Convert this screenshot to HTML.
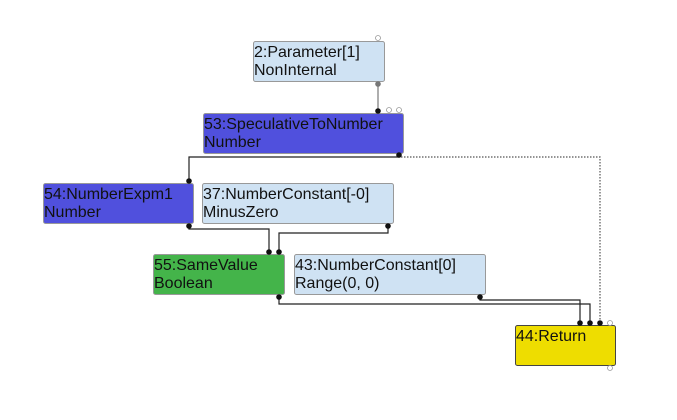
<!DOCTYPE html>
<html><head><meta charset="utf-8"><style>
html,body{margin:0;padding:0;background:#fff;width:677px;height:420px;overflow:hidden}
text{font-family:"Liberation Sans",sans-serif;font-size:16px;fill:#111}
</style></head><body>
<svg width="677" height="420" viewBox="0 0 677 420" xmlns="http://www.w3.org/2000/svg">
<g fill="none" stroke="#222" stroke-width="1.2">
<path d="M378 84 V111" stroke="#777"/>
<path d="M399 155 V157 H189 V181"/>
<path d="M401 157 H600 V323" stroke-dasharray="1.5,1.5" stroke="#555"/>
<path d="M189 226 V229 H269 V252"/>
<path d="M388 226 V233 H279 V252"/>
<path d="M279 296 V304 H590 V323"/>
<path d="M480 296 V300 H580 V323"/>
</g>
<g stroke="#999" stroke-width="1">
<rect x="253.5" y="41.5" width="131" height="40" rx="2" fill="#cfe2f3"/>
<rect x="203.5" y="113.5" width="200" height="40" rx="2" fill="#5050dd"/>
<rect x="43.5" y="183.5" width="150" height="40" rx="2" fill="#5050dd"/>
<rect x="202.5" y="183.5" width="191" height="40" rx="2" fill="#cfe2f3"/>
<rect x="153.5" y="254.5" width="131" height="40" rx="2" fill="#44b44a"/>
<rect x="294.5" y="254.5" width="191" height="40" rx="2" fill="#cfe2f3"/>
<rect x="515.5" y="325.5" width="100" height="40" rx="2" fill="#eedd00" stroke="#444"/>
</g>
<g fill="#111">
<circle cx="378" cy="111" r="2.8"/><circle cx="399" cy="155" r="2.8"/>
<circle cx="189" cy="181" r="2.8"/><circle cx="189" cy="226" r="2.8"/>
<circle cx="388" cy="226" r="2.8"/><circle cx="269" cy="252" r="2.8"/>
<circle cx="279" cy="252" r="2.8"/><circle cx="279" cy="297" r="2.8"/>
<circle cx="480" cy="297" r="2.8"/><circle cx="580" cy="323" r="2.8"/>
<circle cx="590" cy="323" r="2.8"/><circle cx="600" cy="323" r="2.8"/>
</g>
<circle cx="378" cy="84" r="2.8" fill="#777"/>
<g fill="#fff" stroke="#999" stroke-width="0.8">
<circle cx="378" cy="38" r="2.5"/><circle cx="389" cy="110" r="2.5"/><circle cx="399" cy="110" r="2.5"/>
<circle cx="610" cy="323" r="2.5"/><circle cx="610" cy="368" r="2.5"/>
</g>
<text x="254" y="57">2:Parameter[1]</text><text x="254" y="75">NonInternal</text>
<text x="204" y="129">53:SpeculativeToNumber</text><text x="204" y="147">Number</text>
<text x="44" y="199">54:NumberExpm1</text><text x="44" y="217">Number</text>
<text x="203" y="199">37:NumberConstant[-0]</text><text x="203" y="217">MinusZero</text>
<text x="154" y="270">55:SameValue</text><text x="154" y="288">Boolean</text>
<text x="295" y="270">43:NumberConstant[0]</text><text x="295" y="288">Range(0, 0)</text>
<text x="516" y="341">44:Return</text>
</svg>
</body></html>
